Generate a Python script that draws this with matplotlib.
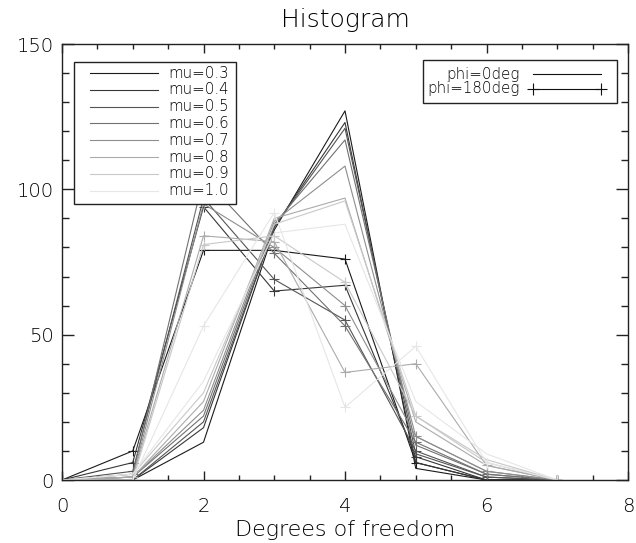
import matplotlib
matplotlib.use("Agg")
import matplotlib.pyplot as plt
from matplotlib.patches import Rectangle
from matplotlib.ticker import MultipleLocator

plt.rcParams['font.family'] = ['DejaVu Sans']
plt.rcParams['font.weight'] = 'light'
plt.rcParams['axes.titleweight'] = 'light'
plt.rcParams['axes.labelweight'] = 'light'

dof = [0, 1, 2, 3, 4, 5, 6, 7]
mu_values = [0.3, 0.4, 0.5, 0.6, 0.7, 0.8, 0.9, 1.0]

# phi = 0 deg histograms, one row per mu
counts_phi0 = [
    [0, 0, 13, 86, 127, 4, 0, 0],
    [0, 0, 18, 87, 123, 6, 0, 0],
    [0, 0, 20, 87, 121, 9, 1, 0],
    [0, 1, 22, 88, 117, 12, 2, 0],
    [0, 1, 24, 89, 108, 15, 3, 0],
    [0, 1, 27, 90, 97, 20, 5, 0],
    [0, 2, 30, 88, 96, 22, 7, 0],
    [0, 2, 34, 85, 88, 27, 9, 0],
]

# phi = 180 deg histograms, one row per mu
counts_phi180 = [
    [0, 10, 79, 79, 76, 6, 0, 0],
    [0, 6, 94, 65, 67, 8, 0, 0],
    [0, 3, 97, 69, 55, 10, 1, 0],
    [0, 2, 104, 78, 53, 13, 2, 0],
    [0, 1, 95, 80, 60, 15, 3, 0],
    [0, 1, 84, 82, 37, 40, 5, 0],
    [0, 0, 81, 84, 68, 22, 6, 0],
    [0, 0, 53, 92, 25, 46, 6, 0],
]

W, H = 636, 543
L, R, T, B = 62, 628, 44, 480

fig = plt.figure(figsize=(W / 100, H / 100), dpi=100)
ax = fig.add_axes([L / W, (H - B) / H, (R - L) / W, (B - T) / H])

n = len(mu_values)
greys = [str(0.1 + 0.8 * i / (n - 1)) for i in range(n)]

for i, mu in enumerate(mu_values):
    ax.plot(dof, counts_phi0[i], color=greys[i], lw=0.8)
    ax.plot(dof, counts_phi180[i], color=greys[i], lw=0.8,
            marker='+', ms=7, mew=0.8)

ax.set_xlim(0, 8)
ax.set_ylim(0, 150)
ax.xaxis.set_major_locator(MultipleLocator(2))
ax.xaxis.set_minor_locator(MultipleLocator(0.5))
ax.yaxis.set_major_locator(MultipleLocator(50))
ax.yaxis.set_minor_locator(MultipleLocator(10))
ax.tick_params(which='both', direction='in', top=True, right=True,
               color='#222222', width=1.0, labelsize=14)
ax.tick_params(axis='x', which='major', length=6.5, pad=12)
ax.tick_params(axis='x', which='minor', length=3.6)
ax.tick_params(axis='y', which='major', length=8.6, pad=6)
ax.tick_params(axis='y', which='minor', length=4.7)
for s in ax.spines.values():
    s.set_color('#222222')
    s.set_linewidth(1.0)

ax.set_title('Histogram', fontsize=18, pad=12)
ax.set_xlabel('Degrees of freedom', fontsize=16, labelpad=3)


def px(x, y):
    # pixel position -> axes fraction
    return (x - L) / (R - L), (B - y) / (B - T)


def box(x0, y0, x1, y1):
    a, b = px(x0, y1)
    c, d = px(x1, y0)
    ax.add_patch(Rectangle((a, b), c - a, d - b, transform=ax.transAxes,
                           facecolor='white', edgecolor='#222222', lw=1.0,
                           zorder=5))


def key_line(x0, x1, y, color, marker=None):
    a, b = px(x0, y)
    c, _ = px(x1, y)
    ax.plot([a, c], [b, b], transform=ax.transAxes, color=color, lw=0.8,
            marker=marker, ms=9, mew=0.8, zorder=6, clip_on=False)


def key_text(x, y, s, ha):
    a, b = px(x, y)
    ax.text(a, b, s, transform=ax.transAxes, ha=ha, va='center',
            fontsize=10.8, zorder=6)


# mu legend: line then label
box(74, 62, 236, 204)
for i, mu in enumerate(mu_values):
    yrow = 73 + 16.8 * i
    key_line(90, 158, yrow, greys[i])
    key_text(168, yrow, 'mu=%.1f' % mu, 'left')

# phi legend: label then line
box(423, 60, 617, 103)
key_text(520, 74, 'phi=0deg', 'right')
key_line(533, 601, 74, '#111111')
key_text(520, 89, 'phi=180deg', 'right')
key_line(533, 601, 89, '#111111', marker='+')

fig.savefig('out.png', dpi=100)
